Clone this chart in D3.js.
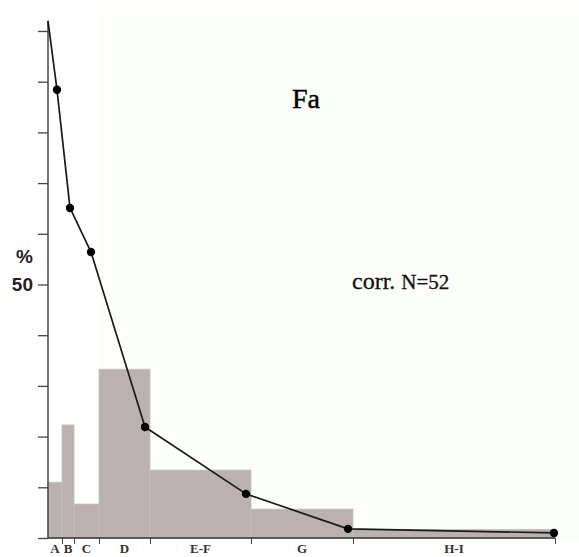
<!DOCTYPE html>
<html>
<head>
<meta charset="utf-8">
<script src="https://cdn.jsdelivr.net/npm/d3@7"></script>
<style>
  body { margin: 0; background: #fff; }
  svg { display: block; }
</style>
</head>
<body>
<svg id="chart"></svg>
<script>
// grain-size classes, bounds in arbitrary x units
const classes = ["A", "B", "C", "D", "E-F", "G", "H-I"];
const bounds = [0, 14, 26, 51, 102, 203, 305, 507];
// histogram, % per class
const histValues = [11.0, 22.3, 6.7, 33.3, 13.4, 5.7, 1.7];
// cumulative curve
const cumX = [0, 9, 22, 43, 97, 198, 300, 506];
const cumValues = [102, 88.4, 65.1, 56.4, 21.9, 8.7, 1.8, 1.0];
const yTicks = [0, 10, 20, 30, 40, 50, 60, 70, 80, 90, 100];

const W = 579, H = 557;
const svg = d3.select("#chart").attr("width", W).attr("height", H);

const x = d3.scaleLinear().domain([0, 507]).range([48, 555]);
const y = d3.scaleLinear().domain([0, 100]).range([538, 31]);

// pale background panel
svg.append("rect")
    .attr("x", 102).attr("y", 10)
    .attr("width", W - 102).attr("height", 530)
    .attr("fill", "#fbfef9");

// bars
svg.selectAll(".bar")
    .data(histValues)
    .enter().append("rect")
    .attr("class", "bar")
    .attr("x", (d, i) => x(bounds[i]))
    .attr("width", (d, i) => x(bounds[i + 1]) - x(bounds[i]))
    .attr("y", d => y(d))
    .attr("height", d => y(0) - y(d))
    .attr("fill", "#bab1b0")
    .attr("stroke", "#c9c1c0")
    .attr("stroke-width", 0.8);

// y axis
const yAxis = d3.axisLeft(y)
    .tickValues(yTicks)
    .tickSize(10)
    .tickPadding(5)
    .tickFormat(d => d === 50 ? "50" : "");
const gy = svg.append("g")
    .attr("transform", `translate(${x(0)},0)`)
    .call(yAxis);
gy.select(".domain").remove();
gy.selectAll(".tick line").attr("stroke", "#444").attr("stroke-width", 1.3);
gy.selectAll(".tick text")
    .attr("font-family", "Liberation Sans, Arial, sans-serif")
    .attr("font-size", 19)
    .attr("font-weight", "bold")
    .attr("fill", "#222");
svg.append("line")
    .attr("x1", x(0)).attr("x2", x(0))
    .attr("y1", y(102)).attr("y2", y(0))
    .attr("stroke", "#444").attr("stroke-width", 1.5);

svg.append("text")
    .attr("x", 33).attr("y", 263)
    .attr("text-anchor", "end")
    .attr("font-family", "Liberation Sans, Arial, sans-serif")
    .attr("font-size", 19)
    .attr("font-weight", "bold")
    .attr("fill", "#222")
    .text("%");

// x axis
const xAxis = d3.axisBottom(x)
    .tickValues(bounds.slice(1))
    .tickSize(6)
    .tickFormat("");
const gx = svg.append("g")
    .attr("transform", `translate(0,${y(0)})`)
    .call(xAxis);
gx.select(".domain").remove();
gx.selectAll(".tick line").attr("stroke", "#444").attr("stroke-width", 1);
svg.append("line")
    .attr("x1", x(0)).attr("x2", x(507))
    .attr("y1", y(0)).attr("y2", y(0))
    .attr("stroke", "#333").attr("stroke-width", 1.5);

svg.selectAll(".cls")
    .data(classes)
    .enter().append("text")
    .attr("class", "cls")
    .attr("x", (d, i) => (x(bounds[i]) + x(bounds[i + 1])) / 2)
    .attr("y", 553)
    .attr("text-anchor", "middle")
    .attr("font-family", "Liberation Serif, Times New Roman, serif")
    .attr("font-size", 13)
    .attr("font-weight", "bold")
    .attr("fill", "#333")
    .text(d => d);

// cumulative curve
const pts = cumX.map((d, i) => [x(d), y(cumValues[i])]);
svg.append("path")
    .attr("d", d3.line()(pts))
    .attr("fill", "none")
    .attr("stroke", "#1a1a1a")
    .attr("stroke-width", 1.7)
    .attr("stroke-linejoin", "round");

svg.selectAll(".dot")
    .data(pts.slice(1))
    .enter().append("circle")
    .attr("class", "dot")
    .attr("cx", d => d[0])
    .attr("cy", d => d[1])
    .attr("r", 4.2)
    .attr("fill", "#000");

// labels
svg.append("text")
    .attr("x", 292).attr("y", 108)
    .attr("font-family", "Liberation Serif, Times New Roman, serif")
    .attr("font-size", 28)
    .attr("fill", "#000")
    .attr("stroke", "#000")
    .attr("stroke-width", 0.4)
    .text("Fa");

const note = svg.append("text")
    .attr("x", 352).attr("y", 289)
    .attr("font-family", "Liberation Serif, Times New Roman, serif")
    .attr("fill", "#111")
    .attr("stroke", "#111")
    .attr("stroke-width", 0.3);
note.append("tspan").attr("font-size", 24).text("corr. ");
note.append("tspan").attr("font-size", 21).text("N=52");
</script>
</body>
</html>
